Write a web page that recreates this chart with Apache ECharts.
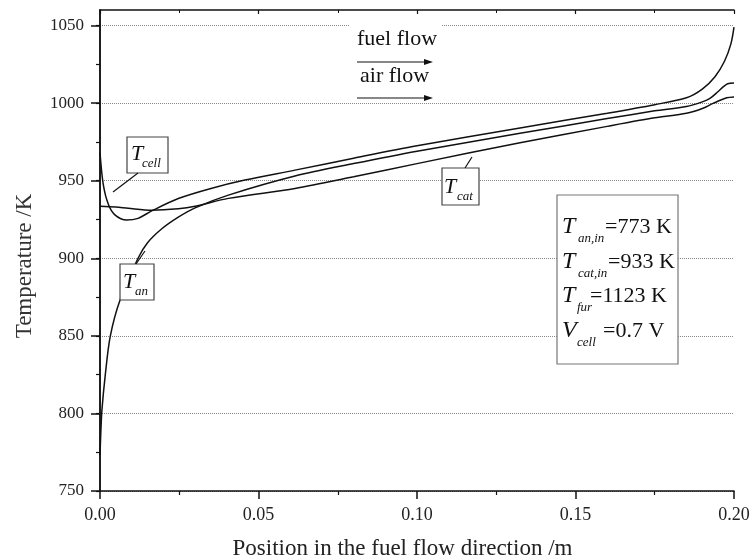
<!DOCTYPE html>
<html>
<head>
<meta charset="utf-8">
<script src="https://cdn.jsdelivr.net/npm/echarts@6/dist/echarts.min.js"></script>
<style>
  html, body { margin: 0; padding: 0; background: #fff; }
  #chart { width: 753px; height: 556px; }
</style>
</head>
<body>
<div id="chart"></div>
<script>
// positions along the channel (m) and temperatures (K)
var tCellX = [0, 0.001, 0.0026, 0.0047, 0.0084, 0.012, 0.0163, 0.0247, 0.035, 0.0457, 0.0615, 0.08, 0.1, 0.1325, 0.16, 0.175, 0.185, 0.19, 0.194, 0.197, 0.199, 0.2];
var tCellY = [968, 948, 935, 928, 924.6, 925.7, 930.5, 938.5, 945, 950.4, 956.8, 964.5, 972.5, 984, 993.5, 999, 1003.4, 1009, 1017, 1027, 1038, 1049];

var tAnX = [0, 0.0003, 0.0006, 0.0016, 0.0032, 0.0063, 0.012, 0.015, 0.0195, 0.0247, 0.03, 0.0405, 0.0615, 0.08, 0.1, 0.1325, 0.16, 0.175, 0.185, 0.19, 0.1924, 0.195, 0.1966, 0.198, 0.2];
var tAnY = [773, 790, 802, 823.6, 849.4, 873, 900, 910, 919, 926.5, 932.5, 940.7, 953, 961, 969, 980.5, 990, 995, 997.8, 1000.8, 1003, 1007.5, 1010.5, 1012.5, 1013];

var tCatX = [0, 0.005, 0.0089, 0.0163, 0.0247, 0.03, 0.0405, 0.0615, 0.08, 0.1, 0.1325, 0.16, 0.175, 0.185, 0.19, 0.1934, 0.1977, 0.2];
var tCatY = [933.5, 933, 932.2, 931, 931.9, 933.5, 938.6, 945, 952.5, 961, 974.5, 985, 990.5, 993.4, 996.5, 999.8, 1003.4, 1004];

var yTicks = [750, 800, 850, 900, 950, 1000, 1050];

var FONT = "'Liberation Serif', 'DejaVu Serif', serif";

function pairs(xs, ys) {
    return xs.map(function (x, i) { return [x, ys[i]]; });
}

function curve(name, xs, ys) {
    return {
        name: name,
        type: 'line',
        data: pairs(xs, ys),
        symbol: 'none',
        smooth: 0.3,
        lineStyle: { color: '#111', width: 1.5 },
        z: 5
    };
}

// small helpers for the annotation graphics
function txt(x, y, s, size, italic) {
    return {
        type: 'text', x: x, y: y, z: 102,
        style: {
            text: s, fontSize: size, fontFamily: FONT,
            fontStyle: italic ? 'italic' : 'normal',
            fill: '#111', align: 'left', verticalAlign: 'middle'
        }
    };
}
function box(x, y, w, h, stroke) {
    return {
        type: 'rect', z: 100,
        shape: { x: x, y: y, width: w, height: h },
        style: { fill: '#fff', stroke: stroke || '#444', lineWidth: 1.2 }
    };
}
function seg(x1, y1, x2, y2) {
    return {
        type: 'line', z: 101,
        shape: { x1: x1, y1: y1, x2: x2, y2: y2 },
        style: { stroke: '#111', lineWidth: 1.2 }
    };
}
function arrow(x1, x2, y) {
    return [
        seg(x1, y, x2 - 6, y),
        {
            type: 'polygon', z: 101,
            shape: { points: [[x2 - 9, y - 3], [x2, y], [x2 - 9, y + 3]] },
            style: { fill: '#111' }
        }
    ];
}

var graphics = [].concat(
    // flow direction
    [{ type: 'rect', z: 99, shape: { x: 350, y: 20, width: 92, height: 28 }, style: { fill: '#fff' } }],
    [txt(357, 39, 'fuel flow', 22, false)],
    arrow(357, 433, 62),
    [txt(360, 76, 'air flow', 22, false)],
    arrow(357, 433, 98),
    // T_cell label
    [box(127, 137, 41, 36), txt(131, 154, 'T', 22, true), txt(142, 164, 'cell', 13, true), seg(138, 173, 113, 192)],
    // T_an label
    [box(120, 264, 34, 36), txt(123, 282, 'T', 22, true), txt(135, 292, 'an', 13, true), seg(136, 264, 145, 251)],
    // T_cat label
    [box(442, 168, 37, 37), txt(444, 187, 'T', 22, true), txt(457, 197, 'cat', 13, true), seg(465, 168, 472, 157)],
    // operating conditions
    [box(557, 195, 121, 169, '#777'),
        txt(562, 227, 'T', 24, true), txt(578, 239, 'an,in', 13, true), txt(605, 227, '=773 K', 22, false),
        txt(562, 262, 'T', 24, true), txt(578, 274, 'cat,in', 13, true), txt(608, 262, '=933 K', 22, false),
        txt(562, 296, 'T', 24, true), txt(577, 308, 'fur', 13, true), txt(590, 296, '=1123 K', 22, false),
        txt(562, 331, 'V', 24, true), txt(577, 343, 'cell', 13, true), txt(603, 331, '=0.7 V', 22, false)]
);

var axisLine = { lineStyle: { color: '#111', width: 1.5 } };

var chart = echarts.init(document.getElementById('chart'));
chart.setOption({
    animation: false,
    backgroundColor: '#fff',
    grid: { left: 100, right: 19, top: 10, bottom: 65, outerBoundsMode: 'none', containLabel: false },
    xAxis: [{
        type: 'value', min: 0, max: 0.2, interval: 0.05, position: 'bottom',
        axisLine: axisLine,
        axisTick: { length: 8, lineStyle: { color: '#111', width: 1.5 } },
        minorTick: { show: true, splitNumber: 2, length: 4, lineStyle: { color: '#111', width: 1.2 } },
        axisLabel: { formatter: function (v) { return v.toFixed(2); }, fontSize: 18, fontFamily: FONT, color: '#222', margin: 15 },
        splitLine: { show: false },
        name: 'Position in the fuel flow direction /m',
        nameLocation: 'middle', nameGap: 46,
        nameTextStyle: { fontSize: 23, fontFamily: FONT, color: '#222', padding: [0, 29, 0, 0] }
    }, {
        type: 'value', min: 0, max: 0.2, interval: 0.05, position: 'top',
        axisLine: axisLine,
        axisTick: { inside: true, length: 4, lineStyle: { color: '#111', width: 1.2 } },
        minorTick: { show: true, splitNumber: 2, length: 3, lineStyle: { color: '#111' } },
        axisLabel: { show: false },
        splitLine: { show: false }
    }],
    yAxis: [{
        type: 'value', min: 750, max: 1060, interval: 50, position: 'left',
        axisLine: axisLine,
        axisTick: { length: 9, customValues: yTicks, lineStyle: { color: '#111', width: 1.5 } },
        minorTick: { show: true, splitNumber: 2, length: 4, lineStyle: { color: '#111', width: 1.2 } },
        axisLabel: { customValues: yTicks, formatter: function (v) { return String(v); }, fontSize: 17, fontFamily: FONT, color: '#222', margin: 16 },
        splitLine: { show: true, lineStyle: { type: 'dotted', color: '#888', width: 1 } },
        name: 'Temperature /K',
        nameLocation: 'middle', nameGap: 64,
        nameTextStyle: { fontSize: 23, fontFamily: FONT, color: '#333', padding: [0, 31, 0, 0] }
    }, {
        type: 'value', min: 750, max: 1060, interval: 50, position: 'right',
        axisLine: axisLine,
        axisTick: { inside: true, length: 4, customValues: yTicks, lineStyle: { color: '#111', width: 1.2 } },
        axisLabel: { show: false },
        splitLine: { show: false }
    }],
    series: [
        curve('Tcell', tCellX, tCellY),
        curve('Tan', tAnX, tAnY),
        curve('Tcat', tCatX, tCatY)
    ],
    graphic: graphics
});
</script>
</body>
</html>
